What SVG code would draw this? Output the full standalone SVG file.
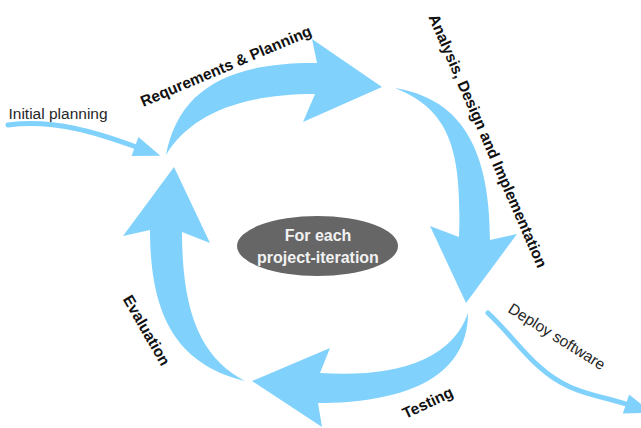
<svg xmlns="http://www.w3.org/2000/svg" width="641" height="428" viewBox="0 0 641 428">
  <style>
    .band { fill: #80d2fd; stroke: none; }
    .flow { fill: none; stroke: #80d2fd; stroke-width: 5; stroke-linecap: round; }
    .phase { font-family: "Liberation Sans", Arial, sans-serif; font-size: 15.5px; font-weight: bold; fill: #111; }
    .note { font-family: "Liberation Sans", Arial, sans-serif; font-size: 15.5px; fill: #262626; }
    .hub-text { font-family: "Liberation Sans", Arial, sans-serif; font-size: 16px; font-weight: bold; fill: #f2f2f2; text-anchor: middle; }
  </style>
  <defs>
    <marker id="head" markerUnits="userSpaceOnUse" markerWidth="28" markerHeight="20" refX="0" refY="10" orient="auto" overflow="visible">
      <path d="M0,0 L27,10 L0,20 z" fill="#80d2fd"/>
    </marker>
  </defs>

  <rect width="641" height="428" fill="#ffffff"/>

  <!-- cycle arrows and the entry / exit flows -->
  <g id="connectors">
    <path id="initial-planning" class="flow" d="M8,125 C55,119 98,133 135,146.5" marker-end="url(#head)"/>
    <path id="deploy-software" class="flow" d="M488,313 C515,338 535,372 570,387 C590,396 605,397 626,404" marker-end="url(#head)"/>
    <path id="arrow-requirements" class="band" d="M166,155 C178,92 225,62 317,63 L312,39 L382,87 L303,122 L315,94 C240,94 190,115 166,155 Z"/>
    <path id="arrow-analysis" class="band" d="M395,88 C455,98 490,140 490,240 L517,234 L466,303 L430,226 L459,237 C462,150 450,110 395,88 Z"/>
    <path id="arrow-testing" class="band" d="M468,313 C468,380 400,403 318,403 L322,427 L252,381 L330,348 L320,373 C395,378 452,360 468,313 Z"/>
    <path id="arrow-evaluation" class="band" d="M245,381 C180,365 150,320 150,230 L123,236 L174,167 L210,243 L182,232 C182,320 205,360 245,381 Z"/>
  </g>

  <!-- central node -->
  <g id="iteration">
    <ellipse cx="317.5" cy="246" rx="80.5" ry="30" fill="#666666"/>
    <text class="hub-text" x="318" y="240.5">For each</text>
    <text class="hub-text" x="318" y="262.5">project-iteration</text>
  </g>

  <!-- phase labels -->
  <g id="label-requirements">
    <text class="phase" text-anchor="middle" transform="translate(228,71) rotate(-23)">Requrements &amp; Planning</text>
  </g>
  <g id="label-analysis">
    <text class="phase" text-anchor="middle" transform="translate(483,143) rotate(66.5)">Analysis, Design and Implementation</text>
  </g>
  <g id="label-testing">
    <text class="phase" text-anchor="middle" transform="translate(430,407.5) rotate(-25)">Testing</text>
  </g>
  <g id="label-evaluation">
    <text class="phase" text-anchor="middle" transform="translate(142,333) rotate(60)">Evaluation</text>
  </g>
  <g id="label-initial">
    <text class="note" x="8.5" y="119">Initial planning</text>
  </g>
  <g id="label-deploy">
    <text class="note" text-anchor="middle" transform="translate(554,341) rotate(32)">Deploy software</text>
  </g>
</svg>
